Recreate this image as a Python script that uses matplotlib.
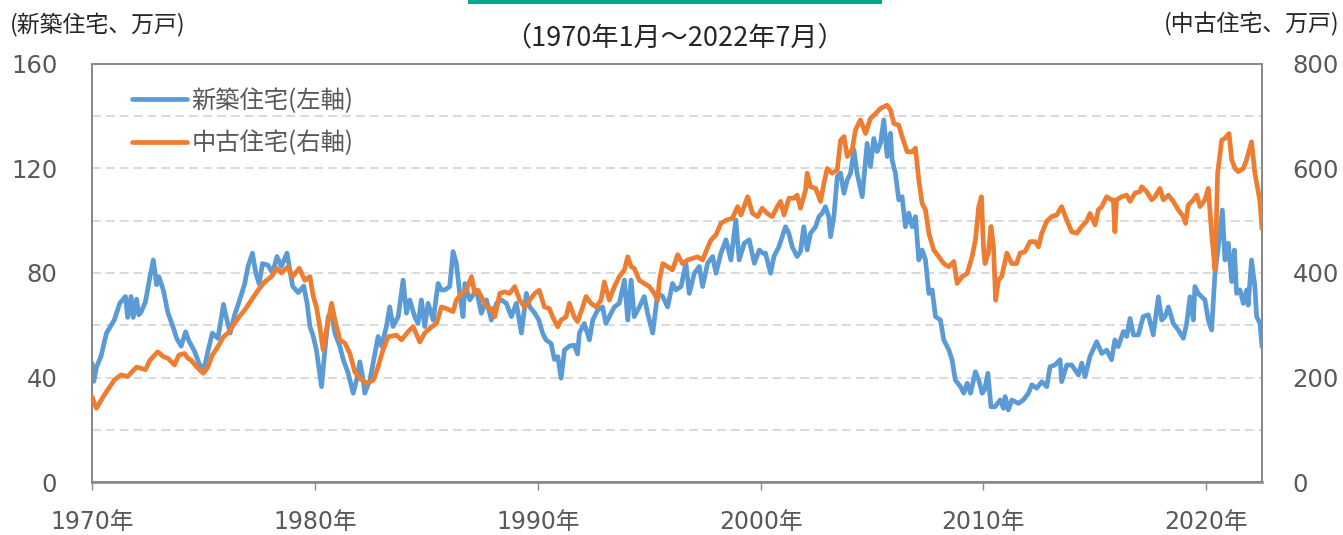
import matplotlib
matplotlib.use("Agg")
import matplotlib.pyplot as plt
from matplotlib.patches import Rectangle
from matplotlib.lines import Line2D

# ---- data ----
new_t = [1970.0, 1970.08, 1970.2, 1970.4, 1970.65, 1971.0, 1971.25, 1971.5, 1971.6, 1971.75, 1971.85,
         1972.0, 1972.1, 1972.2, 1972.4, 1972.6, 1972.75, 1972.9, 1973.0, 1973.2, 1973.4, 1973.65, 1973.8,
         1974.0, 1974.2, 1974.35, 1974.6, 1974.8, 1975.0, 1975.2, 1975.4, 1975.65, 1975.9, 1976.0, 1976.2,
         1976.4, 1976.6, 1976.85, 1977.0, 1977.2, 1977.35, 1977.5, 1977.65, 1977.9, 1978.1, 1978.3, 1978.5,
         1978.75, 1978.9, 1979.0, 1979.25, 1979.5, 1979.65, 1979.78, 1979.93, 1980.07, 1980.30, 1980.45,
         1980.60, 1980.75, 1980.90, 1981.12, 1981.27, 1981.49, 1981.72, 1981.87, 1982.02, 1982.17, 1982.24,
         1982.47, 1982.69, 1982.84, 1982.99, 1983.21, 1983.36, 1983.51, 1983.74, 1983.96, 1984.11, 1984.26,
         1984.48, 1984.63, 1984.78, 1984.93, 1985.08, 1985.31, 1985.53, 1985.68, 1985.83, 1986.05, 1986.20,
         1986.35, 1986.50, 1986.65, 1986.73, 1986.95, 1987.25, 1987.47, 1987.70, 1987.92, 1988.15, 1988.37,
         1988.59, 1988.82, 1989.04, 1989.27, 1989.49, 1989.64, 1989.87, 1990.05, 1990.22, 1990.37, 1990.60,
         1990.75, 1990.90, 1991.05, 1991.20, 1991.42, 1991.64, 1991.79, 1991.87, 1992.09, 1992.32, 1992.47,
         1992.69, 1992.91, 1993.06, 1993.29, 1993.44, 1993.66, 1993.89, 1994.04, 1994.19, 1994.33, 1994.56,
         1994.78, 1994.93, 1995.16, 1995.38, 1995.61, 1995.83, 1996.05, 1996.20, 1996.43, 1996.65, 1996.80,
         1997.03, 1997.25, 1997.40, 1997.62, 1997.85, 1998.00, 1998.22, 1998.45, 1998.67, 1998.89, 1999.04,
         1999.27, 1999.49, 1999.72, 1999.94, 2000.1, 2000.22, 2000.37, 2000.45, 2000.60, 2000.82, 2000.97,
         2001.12, 2001.27, 2001.42, 2001.64, 2001.79, 2001.94, 2002.09, 2002.24, 2002.47, 2002.62, 2002.77,
         2002.91, 2003.06, 2003.14, 2003.29, 2003.44, 2003.59, 2003.74, 2003.89, 2004.04, 2004.19, 2004.33,
         2004.56, 2004.78, 2004.93, 2005.08, 2005.23, 2005.38, 2005.53, 2005.68, 2005.83, 2005.90, 2006.05,
         2006.20, 2006.35, 2006.50, 2006.65, 2006.80, 2006.95, 2007.10, 2007.25, 2007.40, 2007.55, 2007.70,
         2007.85, 2008.07, 2008.22, 2008.45, 2008.59, 2008.74, 2008.97, 2009.12, 2009.27, 2009.42, 2009.64,
         2009.79, 2009.94, 2010.05, 2010.2, 2010.34, 2010.52, 2010.75, 2010.9, 2010.97, 2011.12, 2011.27,
         2011.57, 2011.79, 2012.02, 2012.17, 2012.39, 2012.62, 2012.84, 2012.99, 2013.21, 2013.44, 2013.51,
         2013.74, 2013.96, 2014.26, 2014.41, 2014.56, 2014.78, 2015.08, 2015.31, 2015.53, 2015.75, 2015.9,
         2016.05, 2016.28, 2016.43, 2016.58, 2016.73, 2016.95, 2017.17, 2017.4, 2017.62, 2017.85, 2018.0,
         2018.15, 2018.3, 2018.52, 2018.74, 2018.97, 2019.12, 2019.27, 2019.42, 2019.49, 2019.64, 2019.79,
         2019.94, 2020.09, 2020.24, 2020.39, 2020.54, 2020.72, 2020.84, 2020.99, 2021.14, 2021.26, 2021.36,
         2021.51, 2021.66, 2021.81, 2021.88, 2022.03, 2022.18, 2022.26, 2022.41, 2022.5]
new_v = [45.5, 38.5, 44, 48, 57, 62, 68.5, 71, 63, 71, 63,
         70, 64, 65, 69, 78.6, 85, 75.5, 78.6, 73.5, 65, 59, 55,
         52, 57.5, 54, 50, 45.5, 42.3, 50, 57, 55, 68, 64, 57,
         64, 69, 75.8, 82.5, 87.6, 80, 75.8, 83.6, 83, 80, 86.3, 82.5,
         87.6, 80, 75, 72.5, 75, 68.5, 59.5, 55.7, 50.5, 36.5, 50.5,
         63.3, 64.6, 57, 52, 46.9, 41.8, 34, 39, 46, 39, 34,
         39, 49, 55.7, 52, 59.5, 67, 59.5, 63.3, 77.3, 64.6, 69.7,
         63.3, 60.7, 69.7, 59.5, 68.4, 62, 76, 73.5, 73.5, 74.8, 88.2,
         83.7, 72.2, 63.3, 76, 69.7, 73.5, 64.6, 69.7, 62, 68.4, 69.7,
         68.4, 63.3, 68.4, 57, 72.2, 67, 64.6, 62, 57, 54.4, 53,
         46.9, 48, 39.7, 50.5, 52, 52.4, 49, 57, 60.7, 54.4, 62,
         65.8, 67, 60.7, 64.6, 67, 68.4, 77.3, 62, 77.3, 63.3, 67,
         71, 64.6, 57, 72.2, 71, 67, 76, 73.5, 74.8, 83.7, 72.2,
         79.9, 82.5, 74.8, 83.7, 86.3, 79.9, 87.6, 92.7, 85, 100.3, 85,
         91.4, 92.7, 83.7, 88.8, 87.6, 87.6, 82.5, 79.9, 86.3, 90, 93.9,
         97.7, 95.2, 90, 86.3, 88.2, 97.7, 88.8, 95.2, 97.7, 101.6, 102.9,
         105.4, 101.6, 93.9, 101.6, 116.9, 118.2, 110.5, 115.6, 118.2, 127.1, 118.2,
         109.2, 129.6, 120.7, 131.5, 126.5, 129.6, 138.6, 124.6, 133.5, 123.3, 118.2,
         108, 109.2, 97.7, 102.9, 97.7, 101.6, 85, 88.8, 85, 72.2, 73.5,
         63.3, 62, 54.4, 50.5, 46.8, 39, 36.5, 34, 37.8, 34, 42.2,
         39, 34, 35.2, 41.6, 28.8, 28.8, 31.4, 28.2, 32.7, 27.6, 31.4,
         30.1, 31.4, 34, 37.2, 35.9, 38.4, 36.5, 44.1, 44.8, 46.8, 38.4,
         44.8, 44.8, 41, 45.5, 40.3, 48, 53.7, 49.2, 50.5, 46.8, 54.4,
         51.8, 57.6, 55.7, 62.6, 56.3, 56.3, 63.3, 64, 56.3, 70.9, 62,
         63.3, 67, 60.7, 58.2, 55, 60.7, 70.9, 62, 74.8, 72.2, 70.9,
         69.7, 62, 58.2, 79.9, 90, 104.1, 85, 91.4, 76.7, 88.8, 72.2,
         73.5, 68.4, 73.5, 67.7, 85, 74.8, 63.3, 60.7, 51.8]

used_t = [1970.0, 1970.2, 1970.5, 1970.7, 1971.0, 1971.3, 1971.6, 1972.0, 1972.4, 1972.6, 1972.95,
          1973.2, 1973.4, 1973.7, 1973.9, 1974.15, 1974.3, 1974.45, 1974.7, 1975.0, 1975.2, 1975.4,
          1975.65, 1975.9, 1976.1, 1976.4, 1976.6, 1976.85, 1977.15, 1977.45, 1977.75, 1978.05, 1978.3,
          1978.5, 1978.8, 1979.0, 1979.3, 1979.55, 1979.78, 1979.93, 1980.07, 1980.22, 1980.37, 1980.52,
          1980.75, 1980.90, 1981.12, 1981.35, 1981.57, 1981.79, 1982.02, 1982.32, 1982.62, 1982.84, 1983.06,
          1983.29, 1983.66, 1983.89, 1984.19, 1984.41, 1984.71, 1984.93, 1985.16, 1985.46, 1985.68, 1985.90,
          1986.20, 1986.35, 1986.58, 1986.80, 1987.03, 1987.17, 1987.32, 1987.47, 1987.70, 1987.92, 1988.07,
          1988.30, 1988.52, 1988.74, 1988.97, 1989.19, 1989.42, 1989.64, 1989.87, 1990.07, 1990.30, 1990.52,
          1990.67, 1990.90, 1991.05, 1991.27, 1991.42, 1991.64, 1991.79, 1992.02, 1992.17, 1992.39, 1992.62,
          1992.84, 1992.99, 1993.21, 1993.44, 1993.66, 1993.89, 1994.04, 1994.19, 1994.33, 1994.56, 1994.78,
          1995.01, 1995.23, 1995.38, 1995.46, 1995.61, 1995.83, 1996.05, 1996.28, 1996.50, 1996.73, 1996.95,
          1997.17, 1997.40, 1997.55, 1997.77, 1998.00, 1998.22, 1998.45, 1998.74, 1998.97, 1999.12, 1999.42,
          1999.64, 1999.87, 2000.07, 2000.30, 2000.52, 2000.75, 2000.90, 2001.05, 2001.27, 2001.49, 2001.64,
          2001.79, 2002.02, 2002.09, 2002.24, 2002.47, 2002.69, 2002.84, 2002.99, 2003.21, 2003.44, 2003.59,
          2003.74, 2003.89, 2004.11, 2004.26, 2004.48, 2004.71, 2004.93, 2005.16, 2005.38, 2005.68, 2005.83,
          2005.98, 2006.20, 2006.35, 2006.58, 2006.80, 2006.95, 2007.10, 2007.25, 2007.40, 2007.55, 2007.77,
          2008.00, 2008.22, 2008.45, 2008.67, 2008.82, 2009.04, 2009.27, 2009.49, 2009.64, 2009.79, 2009.91,
          2010.0, 2010.07, 2010.22, 2010.34, 2010.45, 2010.55, 2010.67, 2010.82, 2011.05, 2011.27, 2011.49,
          2011.64, 2011.87, 2012.09, 2012.32, 2012.47, 2012.62, 2012.84, 2013.06, 2013.29, 2013.51, 2013.74,
          2013.96, 2014.19, 2014.41, 2014.63, 2014.78, 2015.01, 2015.16, 2015.31, 2015.53, 2015.75, 2015.83,
          2015.9, 2015.97, 2016.2, 2016.43, 2016.58, 2016.8, 2017.03, 2017.1, 2017.32, 2017.55, 2017.7,
          2017.92, 2018.07, 2018.3, 2018.52, 2018.74, 2018.97, 2019.07, 2019.19, 2019.42, 2019.57, 2019.72,
          2019.94, 2020.09, 2020.24, 2020.39, 2020.51, 2020.69, 2020.84, 2021.02, 2021.14, 2021.29, 2021.43,
          2021.66, 2021.81, 2022.03, 2022.18, 2022.4, 2022.5]
used_v = [163, 141, 163, 176, 195, 205, 202, 220, 215, 233, 249,
          240, 237, 224, 243, 246, 237, 233, 220, 208, 220, 243,
          259, 278, 285, 304, 316, 329, 348, 367, 383, 393, 409,
          400, 412, 393, 409, 386, 393, 355, 335, 297, 253, 291,
          342, 310, 272, 266, 246, 211, 198, 189, 195, 221, 253,
          278, 281, 272, 288, 297, 268, 285, 294, 304, 335, 332,
          326, 348, 361, 367, 393, 361, 367, 355, 335, 332, 316,
          361, 364, 361, 374, 348, 335, 348, 361, 367, 335, 332,
          316, 297, 310, 316, 342, 316, 307, 335, 355, 342, 335,
          348, 383, 348, 374, 393, 406, 431, 412, 409, 386, 380,
          374, 361, 348, 386, 418, 412, 406, 435, 418, 425, 428,
          431, 425, 441, 463, 473, 495, 501, 505, 527, 511, 546,
          514, 508, 524, 514, 508, 527, 537, 511, 543, 543, 549,
          524, 559, 591, 565, 562, 537, 571, 600, 591, 597, 654,
          661, 623, 636, 674, 693, 667, 696, 705, 715, 721, 712,
          686, 683, 661, 632, 632, 639, 578, 533, 521, 476, 444,
          431, 418, 412, 422, 380, 393, 399, 431, 463, 527, 546,
          450, 418, 438, 489, 450, 348, 386, 393, 438, 418, 418,
          438, 441, 460, 460, 450, 476, 499, 508, 511, 527, 501,
          479, 476, 489, 499, 514, 492, 521, 527, 546, 540, 540,
          479, 540, 546, 549, 537, 553, 556, 565, 556, 540, 546,
          562, 540, 549, 537, 521, 508, 495, 530, 540, 549, 527,
          540, 562, 476, 406, 591, 654, 658, 667, 617, 600, 594,
          600, 617, 651, 591, 540, 485]

left_ticks = [0, 40, 80, 120, 160]
right_ticks = [0, 200, 400, 600, 800]
grid_levels = [20, 40, 60, 80, 100, 120, 140]
x_ticks = [1970, 1980, 1990, 2000, 2010, 2020]
x_labels = ["1970年", "1980年", "1990年", "2000年", "2010年", "2020年"]

label_new = "新築住宅(左軸)"
label_used = "中古住宅(右軸)"

# ---- styling ----
BLUE = "#5B9BD5"
ORANGE = "#ED7D31"
TXT = "#595959"
DARK = "#262626"
SPINE = "#898989"
CJK = ["Noto Sans CJK JP", "DejaVu Sans"]
NUM = ["DejaVu Sans", "Noto Sans CJK JP"]
plt.rcParams["font.family"] = CJK
plt.rcParams["lines.scale_dashes"] = False

W, H = 1343, 535
fig = plt.figure(figsize=(W / 100, H / 100), dpi=100)
ax = fig.add_axes([92 / W, 53 / H, 1170 / W, 418 / H])
ax2 = ax.twinx()

for g in grid_levels:
    ax.axhline(g, color="#D9D9D9", lw=1.4, dashes=(6.3, 3.7), zorder=0)

ax.plot(new_t, new_v, color=BLUE, lw=3.4, solid_joinstyle="round", solid_capstyle="round", zorder=3)
ax2.plot(used_t, used_v, color=ORANGE, lw=3.4, solid_joinstyle="round", solid_capstyle="round", zorder=3)

ax.set_xlim(1970, 2022.5)
ax.set_ylim(0, 160)
ax2.set_ylim(0, 800)

ax.set_yticks(left_ticks)
ax.set_yticklabels([str(v) for v in left_ticks], family=NUM, fontsize=17.5, color=TXT)
ax2.set_yticks(right_ticks)
ax2.set_yticklabels([str(v) for v in right_ticks], family=NUM, fontsize=17.5, color=TXT)
ax.set_xticks(x_ticks)
ax.set_xticklabels(x_labels, family=NUM, fontsize=17, color=TXT)

ax.yaxis.set_tick_params(which="major", length=0, pad=25)
ax2.yaxis.set_tick_params(which="major", length=0, pad=22)
ax.xaxis.set_tick_params(which="major", direction="out", length=6, width=1, color=SPINE, pad=14)

for a in (ax, ax2):
    for s in a.spines.values():
        s.set_color(SPINE)
        s.set_linewidth(1.4)
ax2.spines["bottom"].set_linewidth(1.9)

handles = [Line2D([], [], color=BLUE, lw=3.4, solid_capstyle="round"),
           Line2D([], [], color=ORANGE, lw=3.4, solid_capstyle="round")]
leg = ax2.legend(handles, [label_new, label_used], loc="upper left",
                 bbox_to_anchor=(0.034, 0.943), frameon=False, fontsize=17.5,
                 handlelength=2.26, handletextpad=0.2, labelspacing=0.67,
                 borderaxespad=0, borderpad=0)
for t in leg.get_texts():
    t.set_color(TXT)

fig.text(10 / W, 1 - 24 / H, "(新築住宅、万戸)", ha="left", va="center", fontsize=16.5, color=DARK)
fig.text(1340 / W, 1 - 24 / H, "(中古住宅、万戸)", ha="right", va="center", fontsize=16.5, color=DARK)
fig.text(674 / W, 1 - 38 / H, "（1970年1月～2022年7月）", ha="center", va="center", fontsize=19.5, color=DARK)

fig.patches.append(Rectangle((468 / W, 1 - 4 / H), 414 / W, 4 / H, transform=fig.transFigure,
                             facecolor="#00A88F", edgecolor="none"))

fig.savefig("out.png", dpi=100)
